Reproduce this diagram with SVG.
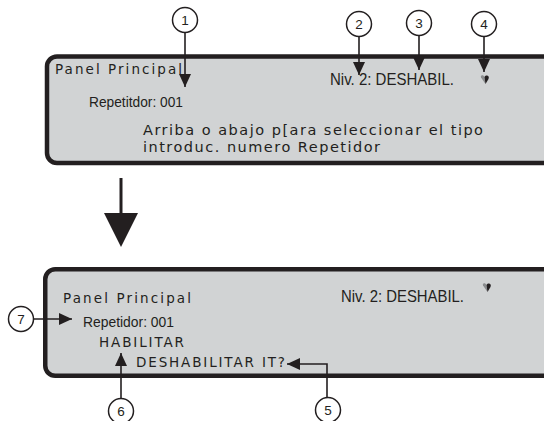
<svg xmlns="http://www.w3.org/2000/svg" width="544" height="421" viewBox="0 0 544 421">
<style>
.box{fill:#d1d3d4;stroke:#231f20;stroke-width:4.5}
.sp{font-family:"DejaVu Sans","Liberation Sans",sans-serif;fill:#231f20}
.cn{font-family:"Liberation Sans Narrow","Liberation Sans",sans-serif;fill:#231f20}
.num{font-family:"Liberation Sans",sans-serif;font-size:13.5px;fill:#231f20;text-anchor:middle}
.cir{fill:#fff;stroke:#231f20;stroke-width:1.5}
.ln{fill:none;stroke:#231f20;stroke-width:1.6}
</style>
<defs>
<marker id="ah" viewBox="0 0 13 12" refX="13" refY="6" markerWidth="13" markerHeight="12" markerUnits="userSpaceOnUse" orient="auto">
<path d="M0,0 L13,6 L0,12 z" fill="#231f20"/>
</marker>
<g id="icon">
<path d="M-4,-2.5 C-5,-5 -1.5,-5.5 -0.5,-3 L0.5,4 Z" fill="#8a8c8e"/>
<path d="M-0.5,-3 C1,-5.5 5,-4.5 3.5,-1 L0.5,4 Z" fill="#231f20"/>
</g>
</defs>

<g id="panel-top">
<rect class="box" x="47" y="56.5" width="520" height="106.5" rx="10"/>
<text class="sp" x="55" y="74" font-size="13.5" textLength="127" lengthAdjust="spacing">Panel Principal</text>
<text class="cn" x="89" y="107" font-size="14" textLength="94" lengthAdjust="spacingAndGlyphs">Repetitdor: 001</text>
<text class="cn" x="330" y="85" font-size="17" textLength="124" lengthAdjust="spacingAndGlyphs">Niv. 2: DESHABIL.</text>
<text class="sp" x="143" y="135" font-size="14.5" textLength="340" lengthAdjust="spacing">Arriba o abajo p[ara seleccionar el tipo</text>
<text class="sp" x="143" y="152" font-size="14.5" textLength="237" lengthAdjust="spacing">introduc. numero Repetidor</text>
<use href="#icon" x="485" y="80"/>
</g>

<g id="panel-bottom">
<rect class="box" x="45.25" y="269.25" width="520" height="106.5" rx="10"/>
<text class="sp" x="63" y="303" font-size="13.5" textLength="128" lengthAdjust="spacing">Panel Principal</text>
<text class="cn" x="83" y="327" font-size="14" textLength="91" lengthAdjust="spacingAndGlyphs">Repetidor: 001</text>
<text class="sp" x="99" y="347" font-size="13.5" textLength="85" lengthAdjust="spacing">HABILITAR</text>
<text class="sp" x="136" y="367" font-size="13.5" textLength="149" lengthAdjust="spacing">DESHABILITAR IT?</text>
<text class="cn" x="341" y="302" font-size="17" textLength="123" lengthAdjust="spacingAndGlyphs">Niv. 2: DESHABIL.</text>
<use href="#icon" x="487" y="288"/>
</g>

<g id="connectors">
<line class="ln" x1="185" y1="32.5" x2="185" y2="87" marker-end="url(#ah)"/>
<line class="ln" x1="359" y1="36.5" x2="359" y2="75" marker-end="url(#ah)"/>
<line class="ln" x1="419" y1="35.5" x2="419" y2="70" marker-end="url(#ah)"/>
<line class="ln" x1="484" y1="36.5" x2="484" y2="72" marker-end="url(#ah)"/>
<line class="ln" x1="33.5" y1="319" x2="72" y2="319" marker-end="url(#ah)"/>
<line class="ln" x1="121" y1="398.5" x2="121" y2="353" marker-end="url(#ah)"/>
<polyline class="ln" points="327,397.5 327,364 287,364" marker-end="url(#ah)"/>
<line x1="121" y1="178" x2="121" y2="214" stroke="#231f20" stroke-width="3"/>
<polygon points="104,213 138,213 121,247" fill="#231f20"/>
</g>

<g id="c1"><circle class="cir" cx="185" cy="20" r="12.5"/><text class="num" x="185" y="25">1</text></g>
<g id="c2"><circle class="cir" cx="359" cy="24" r="12.5"/><text class="num" x="359" y="29">2</text></g>
<g id="c3"><circle class="cir" cx="419" cy="23" r="12.5"/><text class="num" x="419" y="28">3</text></g>
<g id="c4"><circle class="cir" cx="484" cy="24" r="12.5"/><text class="num" x="484" y="29">4</text></g>
<g id="c5"><circle class="cir" cx="328" cy="410" r="12.5"/><text class="num" x="328" y="415">5</text></g>
<g id="c6"><circle class="cir" cx="121" cy="411" r="12.5"/><text class="num" x="121" y="416">6</text></g>
<g id="c7"><circle class="cir" cx="21" cy="319" r="12.5"/><text class="num" x="21" y="324">7</text></g>
</svg>
